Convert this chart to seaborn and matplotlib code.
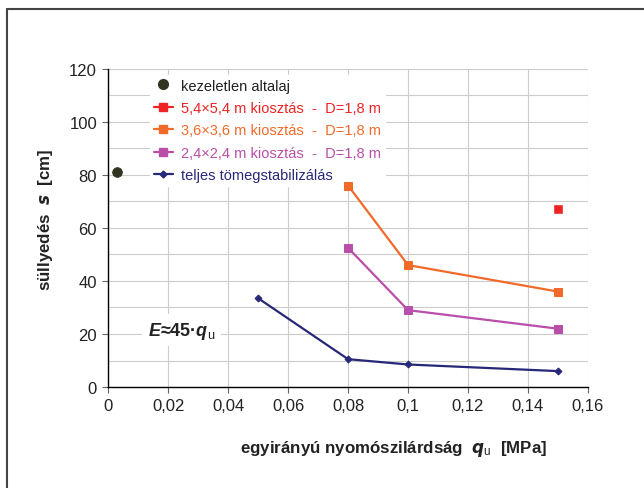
import matplotlib
matplotlib.use("Agg")
import matplotlib.pyplot as plt
import seaborn as sns
import pandas as pd
from matplotlib.lines import Line2D
from matplotlib.ticker import MultipleLocator, FuncFormatter

sns.set_theme(style="white")
plt.rcParams['font.family'] = ['Liberation Sans', 'DejaVu Sans']
plt.rcParams['mathtext.fontset'] = 'custom'
plt.rcParams['mathtext.it'] = 'Liberation Sans:italic:bold'
plt.rcParams['mathtext.bf'] = 'Liberation Sans:bold'
plt.rcParams['mathtext.rm'] = 'Liberation Sans'

# data
untreated_q = [0.003]
untreated_s = [81]
s54_q = [0.15]
s54_s = [67]
s36_q = [0.08, 0.10, 0.15]
s36_s = [76, 46, 36]
s24_q = [0.08, 0.10, 0.15]
s24_s = [52.5, 29, 22]
full_q = [0.05, 0.08, 0.10, 0.15]
full_s = [33.5, 10.5, 8.5, 6]

labels = ["kezeletlen altalaj",
          "5,4×5,4 m kiosztás  -  D=1,8 m",
          "3,6×3,6 m kiosztás  -  D=1,8 m",
          "2,4×2,4 m kiosztás  -  D=1,8 m",
          "teljes tömegstabilizálás"]
colors = ["#333322", "#ee2424", "#f26a2a", "#b94fa8", "#282878"]

fig = plt.figure(figsize=(6.44, 4.89), dpi=100)
ax = fig.add_axes([0.168, 0.2065, 0.745, 0.6505])

series = [(untreated_q, untreated_s, 'o', 7, None),
          (s54_q, s54_s, 's', 5.5, None),
          (s36_q, s36_s, 's', 5.5, '-'),
          (s24_q, s24_s, 's', 5.5, '-'),
          (full_q, full_s, 'D', 3.5, '-')]
handles = []
for (q, s, m, ms, ls), lab, c in zip(series, labels, colors):
    df = pd.DataFrame({"q": q, "s": s})
    if ls:
        sns.lineplot(data=df, x="q", y="s", ax=ax, color=c, marker=m, markersize=ms,
                     markeredgecolor=c, linewidth=1.6, label=lab, sort=False, legend=False,
                     zorder=6)
    else:
        sns.scatterplot(data=df, x="q", y="s", ax=ax, color=c, marker=m, s=ms**2,
                        edgecolor=c, label=lab, legend=False, zorder=6)
    if lab.startswith("kezeletlen"):
        handles.append(Line2D([], [], color=c, marker=m, markersize=ms, linestyle='none', label=lab))
    else:
        handles.append(Line2D([], [], color=c, marker=m, markersize=ms, linewidth=1.6, label=lab))

ax.set_xlim(0, 0.16)
ax.set_ylim(0, 120)
ax.xaxis.set_major_locator(MultipleLocator(0.02))
ax.yaxis.set_major_locator(MultipleLocator(20))
ax.yaxis.set_minor_locator(MultipleLocator(10))

def fmt(v, p):
    if abs(v) < 1e-9:
        return "0"
    t = ("%.2f" % v).rstrip('0').rstrip('.')
    return t.replace('.', ',')
ax.xaxis.set_major_formatter(FuncFormatter(fmt))

ax.grid(True, which='both', color='#cccccc', linewidth=0.8)
ax.set_axisbelow(True)
for sp in ['top', 'right']:
    ax.spines[sp].set_visible(False)
for sp in ['left', 'bottom']:
    ax.spines[sp].set_color('black')
    ax.spines[sp].set_linewidth(1.0)
ax.tick_params(axis='both', which='major', direction='out', length=4, width=0.8,
               color='#666666', labelsize=12, labelcolor='#222222', pad=4, bottom=True, left=True)
ax.tick_params(axis='both', which='minor', length=0)

ax.set_xlabel(r"egyirányú nyomószilárdság  $\boldsymbol{q}_{\mathrm{u}}$  [MPa]",
              fontsize=12.2, fontweight='bold', color='#222222')
ax.xaxis.set_label_coords(0.594, -0.16)
ax.set_ylabel(r"süllyedés  $\boldsymbol{s}$  [cm]", fontsize=12.2, fontweight='bold',
              color='#222222')
ax.yaxis.set_label_coords(-0.11, 0.53)

leg = ax.legend(handles=handles, loc='upper left', bbox_to_anchor=(0.078, 0.995), frameon=True,
                fontsize=10.5, handlelength=1.3, labelspacing=0.58, borderaxespad=0.3,
                borderpad=0.25, handletextpad=0.6)
leg.get_frame().set_facecolor('white')
leg.get_frame().set_edgecolor('white')
leg.get_frame().set_alpha(1)
leg.set_zorder(5)
for t, c in zip(leg.get_texts(), colors):
    t.set_color(c if c != "#333322" else "#222222")

ax.text(0.0245, 21.5, r"$E$≈45·$q$$_{\mathrm{u}}$", fontsize=13, fontweight='bold',
        ha='center', va='center', color='#222222',
        bbox=dict(facecolor='white', edgecolor='none', pad=4))

fig.add_artist(Line2D([7/644, 7/644], [0, 1 - 10/489], color='#444444', linewidth=1.5))
fig.add_artist(Line2D([7/644, 1], [1 - 10/489, 1 - 10/489], color='#444444', linewidth=1.5))

fig.savefig("out.png", dpi=100)
